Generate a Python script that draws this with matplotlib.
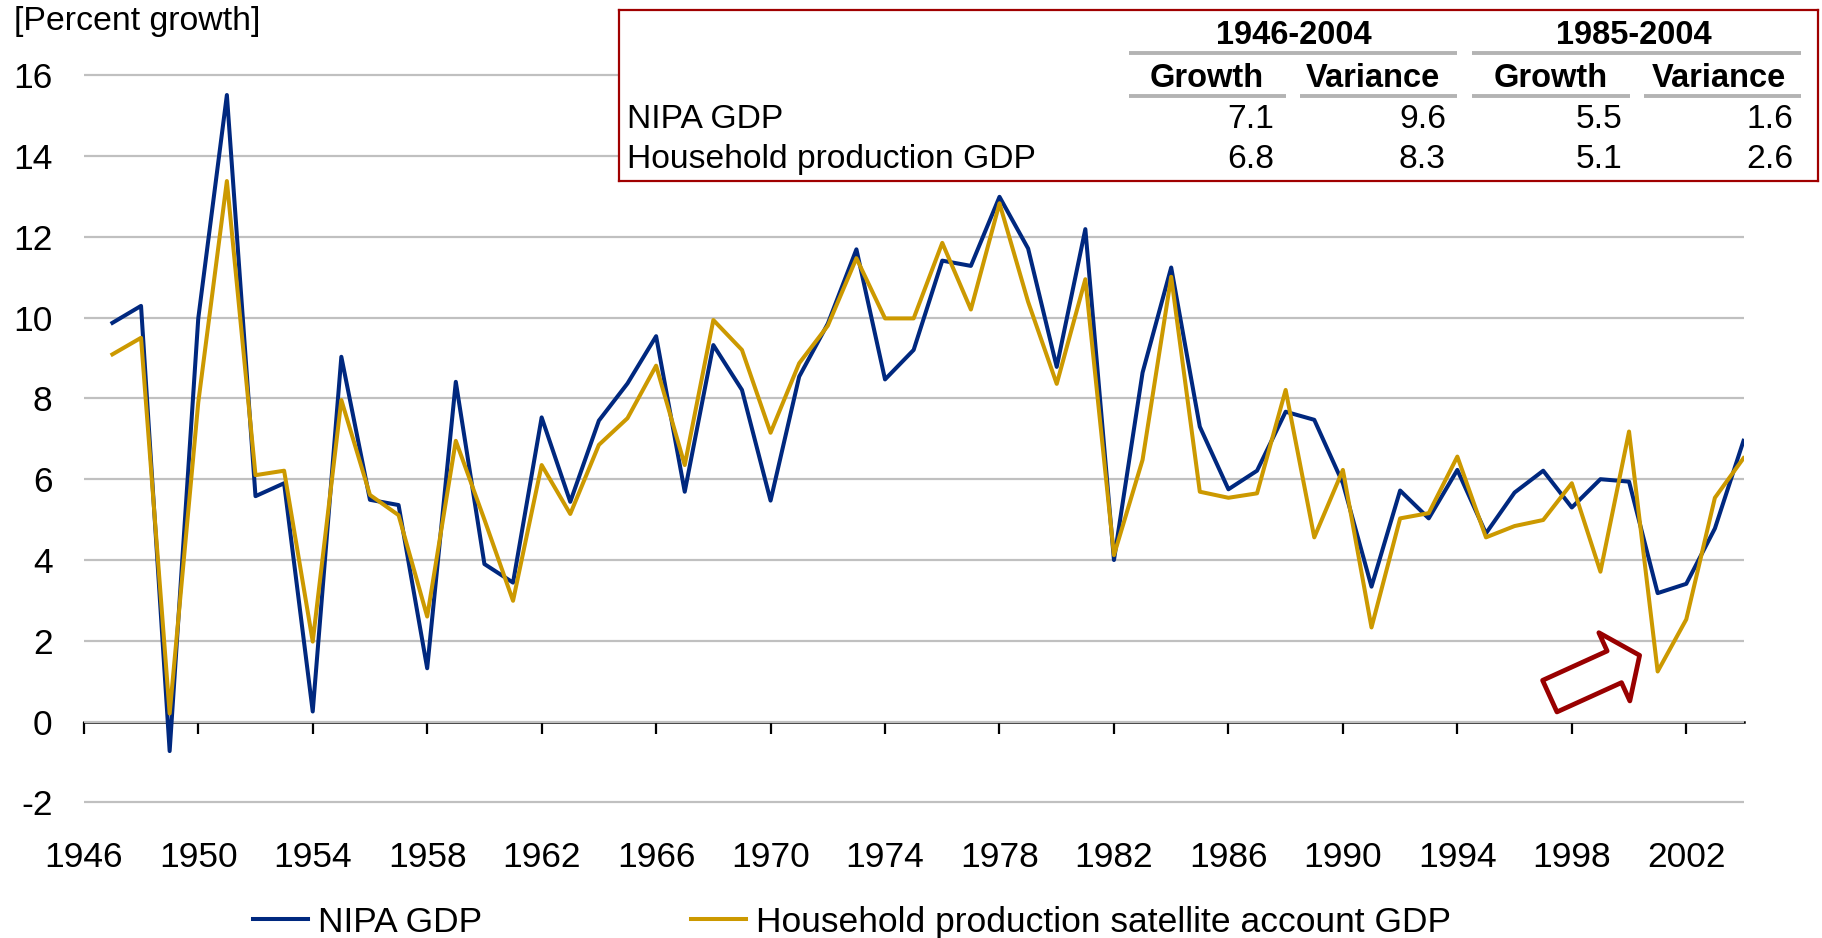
import numpy as np
import matplotlib
matplotlib.use('Agg')
import matplotlib.pyplot as plt

plt.rcParams['font.family'] = ['Liberation Sans', 'DejaVu Sans']
plt.rcParams['axes.unicode_minus'] = False

# annual growth, 1947-2004
years = list(range(1947, 2005))
nipa_gdp = [9.87, 10.29, -0.73, 9.98, 15.51, 5.58, 5.90, 0.25, 9.03, 5.49,
            5.36, 1.32, 8.41, 3.90, 3.44, 7.53, 5.44, 7.45, 8.37, 9.54,
            5.69, 9.32, 8.21, 5.47, 8.54, 9.85, 11.69, 8.47, 9.20, 11.41,
            11.28, 12.99, 11.71, 8.78, 12.19, 4.00, 8.64, 11.24, 7.30, 5.75,
            6.21, 7.67, 7.47, 5.90, 3.34, 5.72, 5.03, 6.23, 4.66, 5.67,
            6.21, 5.30, 6.00, 5.94, 3.18, 3.41, 4.78, 6.95]
household_gdp = [9.09, 9.50, 0.20, 7.90, 13.38, 6.10, 6.21, 1.98, 7.96, 5.61,
                 5.11, 2.60, 6.95, 5.00, 2.99, 6.35, 5.14, 6.85, 7.51, 8.81,
                 6.35, 9.94, 9.20, 7.15, 8.87, 9.80, 11.47, 9.98, 9.98, 11.85,
                 10.20, 12.83, 10.39, 8.36, 10.95, 4.12, 6.48, 11.01, 5.69, 5.54,
                 5.65, 8.21, 4.56, 6.23, 2.33, 5.03, 5.16, 6.56, 4.56, 4.84,
                 4.99, 5.90, 3.71, 7.18, 1.24, 2.53, 5.54, 6.52]

x_ticks = list(range(1946, 2005, 4))
y_ticks = list(range(-2, 17, 2))

# summary table
periods = ['1946-2004', '1985-2004']
stats = ['Growth', 'Variance']
row_labels = ['NIPA GDP', 'Household production GDP']
table_values = [['7.1', '9.6', '5.5', '1.6'],
                ['6.8', '8.3', '5.1', '2.6']]

# arrow pointing at the 2001 dip
arrow_tail = (1997.23, 0.63)
arrow_tip = (2000.37, 1.64)

blue = '#00287F'
gold = '#CC9900'
dark_red = '#990000'

W, H = 1822, 938
fig = plt.figure(figsize=(W / 100, H / 100), dpi=100)

ymin, ymax = -2.05, 16.05
ax = fig.add_axes([83.8 / W, 1 - 804.4 / H, (1743.5 - 83.8) / W, (804.4 - 73.2) / H])
ax.set_xlim(1946, 2004)
ax.set_ylim(ymin, ymax)

ax.plot(years, nipa_gdp, color=blue, lw=2.9, label='NIPA GDP', zorder=3)
ax.plot(years, household_gdp, color=gold, lw=2.9,
        label='Household production satellite account GDP', zorder=3)

ax.set_yticks(y_ticks)
ax.set_xticks(x_ticks)
ax.grid(axis='y', color='#C0C0C0', lw=1.6)
ax.grid(axis='x', visible=False)
ax.set_axisbelow(True)
for s in ax.spines.values():
    s.set_visible(False)
ax.tick_params(axis='x', length=0, pad=26.5, labelsize=25.5)
ax.tick_params(axis='y', length=0, pad=22.5, labelsize=25.5)

# category axis drawn at zero
secax = ax.secondary_xaxis((0 - ymin) / (ymax - ymin))
secax.set_xticks(x_ticks)
secax.tick_params(axis='x', direction='out', length=8.6, width=1.6,
                  color='black', labelbottom=False)
secax.spines['bottom'].set_linewidth(1.8)
secax.spines['bottom'].set_color('black')

ax.annotate('', xy=arrow_tip, xytext=arrow_tail,
            arrowprops=dict(arrowstyle='simple,head_length=2.0,head_width=5.4,tail_width=2.5',
                            mutation_scale=10, fc='white', ec=dark_red, lw=3.4,
                            shrinkA=0, shrinkB=0), zorder=4)

fig.text(13.8 / W, 1 - 30 / H, '[Percent growth]', fontsize=24.4, ha='left', va='baseline')

fig.legend(loc='center left', bbox_to_anchor=(253 / W, 1 - 922 / H), ncol=2,
           frameon=False, fontsize=25.5, handlelength=1.55, handletextpad=0.29,
           columnspacing=5.9, borderpad=0, borderaxespad=0)

# table box, in pixel units of the figure
tax = fig.add_axes([619 / W, 1 - 181 / H, 1199 / W, 171 / H], zorder=5)
tax.set_xlim(619, 1818)
tax.set_ylim(181, 10)
tax.set_xticks([])
tax.set_yticks([])
tax.set_facecolor('white')
for s in tax.spines.values():
    s.set_color('#A00000')
    s.set_linewidth(1.6)

rule = '#B3B3B3'
group_centers = [1294, 1634]
group_rules = [(1128.5, 1456.8), (1472, 1800.7)]
col_centers = [1206.5, 1373, 1550.5, 1718.6]
col_rules = [(1128.5, 1285.5), (1300.3, 1456.8), (1472, 1629.5), (1644.2, 1800.7)]
value_right = [1274, 1446, 1622, 1793]
row_base = [128, 168.3]

for p, xc, (x0, x1) in zip(periods, group_centers, group_rules):
    tax.text(xc, 44, p, fontsize=23.5, fontweight='bold', ha='center', va='baseline')
    tax.plot([x0, x1], [53.3, 53.3], color=rule, lw=2.8, solid_capstyle='butt')
for i, (xc, (x0, x1)) in enumerate(zip(col_centers, col_rules)):
    tax.text(xc, 87.3, stats[i % 2], fontsize=23.5, fontweight='bold', ha='center', va='baseline')
    tax.plot([x0, x1], [95.7, 95.7], color=rule, lw=2.8, solid_capstyle='butt')
for r, (lab, vals) in enumerate(zip(row_labels, table_values)):
    tax.text(627, row_base[r], lab, fontsize=24.2, ha='left', va='baseline')
    for xr, v in zip(value_right, vals):
        tax.text(xr, row_base[r], v, fontsize=24.2, ha='right', va='baseline')

fig.savefig('out.png', dpi=100)
